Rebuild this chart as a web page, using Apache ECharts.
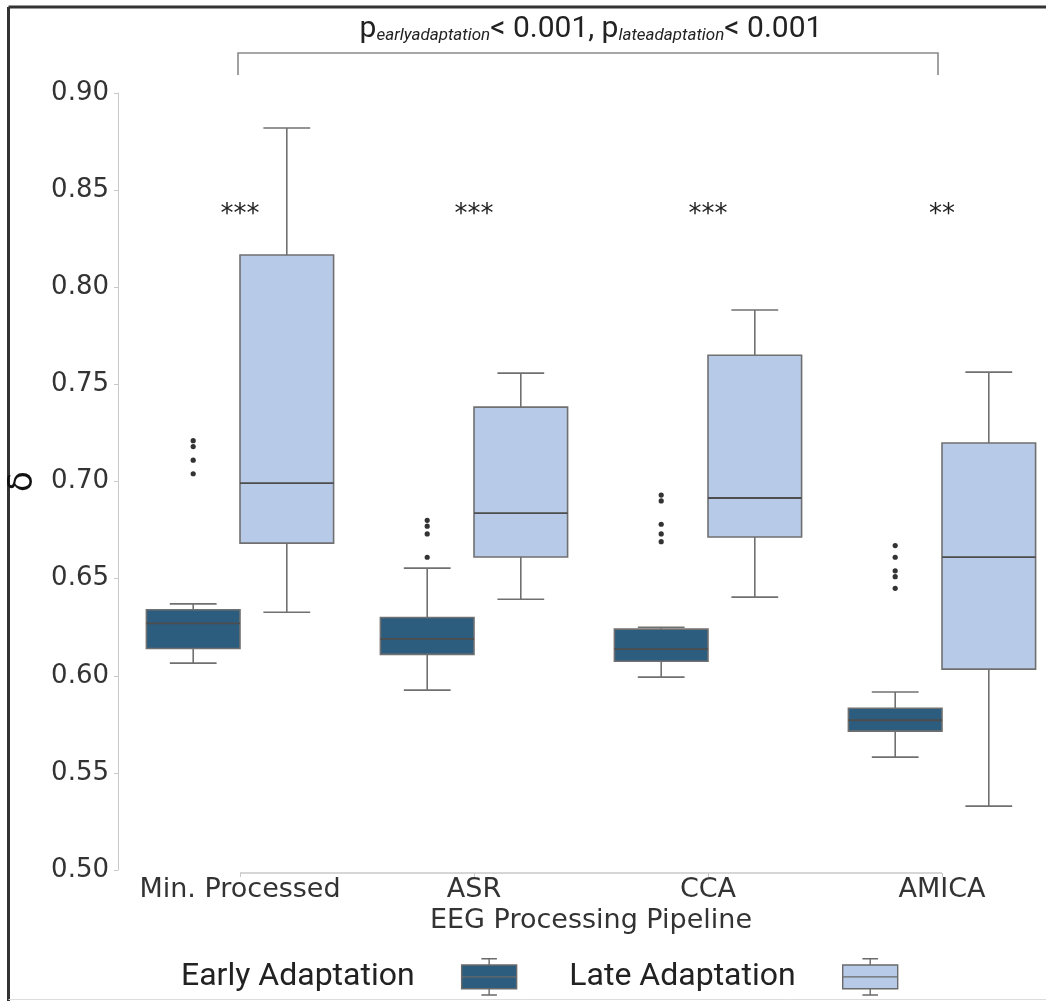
<!DOCTYPE html>
<html><head><meta charset="utf-8">
<script src="https://cdn.jsdelivr.net/npm/echarts@6/dist/echarts.min.js"></script>
<style>html,body{margin:0;padding:0;background:#fff}#c{width:1046px;height:1001px}</style>
</head><body><div id="c"></div>
<script>
// ---- data ----
const categories = ['Min. Processed', 'ASR', 'CCA', 'AMICA'];
const yTicks = [0.50, 0.55, 0.60, 0.65, 0.70, 0.75, 0.80, 0.85, 0.90];
// each: [lower whisker, Q1, median, Q3, upper whisker]
const earlyBoxes = [
  [0.6065, 0.6140, 0.6270, 0.6340, 0.6370],
  [0.5926, 0.6110, 0.6190, 0.6300, 0.6554],
  [0.5993, 0.6075, 0.6137, 0.6240, 0.6250],
  [0.5581, 0.5715, 0.5771, 0.5833, 0.5916]
];
const lateBoxes = [
  [0.6327, 0.6683, 0.6992, 0.8166, 0.8820],
  [0.6394, 0.6611, 0.6837, 0.7383, 0.7558],
  [0.6405, 0.6714, 0.6915, 0.7650, 0.7883],
  [0.5329, 0.6034, 0.6611, 0.7198, 0.7563]
];
const earlyOutliers = [
  [0.721, 0.718, 0.711, 0.704],
  [0.680, 0.677, 0.673, 0.661],
  [0.693, 0.690, 0.678, 0.673, 0.669],
  [0.667, 0.661, 0.654, 0.651, 0.645]
];
const significance = ['***', '***', '***', '**'];
const seriesNames = ['Early Adaptation', 'Late Adaptation'];

// ---- style ----
const EARLY = '#2c5d7e', LATE = '#b7cae8';
const EDGE = '#707070', MED = '#4d4d4d';
const AXISC = '#c9c9c9';
const sigLevel = 0.84;

function boxData(boxes) { return boxes.map((b, i) => [i].concat(b)); }

function boxRenderer(offFrac, fill) {
  return function (params, api) {
    const c = api.value(0);
    const band = api.size([1, 0])[0];
    const w = band * 0.4;
    const xc = api.coord([c, 0.7])[0] + band * offFrac;
    const Y = k => api.coord([c, api.value(k)])[1];
    const lo = Y(1), q1 = Y(2), md = Y(3), q3 = Y(4), hi = Y(5);
    const cap = w * 0.5;
    const ls = { stroke: EDGE, lineWidth: 1.6 };
    return { type: 'group', children: [
      { type: 'line', shape: { x1: xc, y1: hi, x2: xc, y2: q3 }, style: ls },
      { type: 'line', shape: { x1: xc, y1: q1, x2: xc, y2: lo }, style: ls },
      { type: 'line', shape: { x1: xc - cap / 2, y1: hi, x2: xc + cap / 2, y2: hi }, style: ls },
      { type: 'line', shape: { x1: xc - cap / 2, y1: lo, x2: xc + cap / 2, y2: lo }, style: ls },
      { type: 'rect', shape: { x: xc - w / 2, y: q3, width: w, height: q1 - q3 }, style: { fill: fill, stroke: EDGE, lineWidth: 1.6 } },
      { type: 'line', shape: { x1: xc - w / 2, y1: md, x2: xc + w / 2, y2: md }, style: { stroke: MED, lineWidth: 1.8 } }
    ]};
  };
}

const outlierData = [];
earlyOutliers.forEach((arr, i) => arr.forEach(v => outlierData.push([i, v])));

const legendIcon = 'path://M20 1L35 1M27.5 1L27.5 7M1 7L54 7L54 30L1 30ZM1 18.5L54 18.5M27.5 30L27.5 36M20 36L35 36';

const chart = echarts.init(document.getElementById('c'), null, { renderer: 'canvas' });
const option = {
  animation: false,
  backgroundColor: '#fff',
  grid: { left: 123, top: 93, width: 936, height: 777, outerBoundsMode: 'none' },
  legend: {
    data: seriesNames,
    left: 176, top: 953,
    align: 'right',
    icon: legendIcon,
    itemWidth: 55, itemHeight: 37, itemGap: 52,
    itemStyle: { borderColor: '#6a6a6a', borderWidth: 1.4 },
    textStyle: { fontFamily: 'Roboto', fontSize: 32, color: '#222', padding: [0, 42, 0, 0] },
    selectedMode: false
  },
  xAxis: {
    type: 'category', data: categories, offset: 3,
    axisLine: { show: false },
    axisTick: { show: true, alignWithLabel: true, length: 4, lineStyle: { color: AXISC } },
    axisLabel: { interval: 0, fontFamily: 'DejaVu Sans', fontSize: 27, color: '#333', margin: 3 },
    name: 'EEG Processing Pipeline', nameLocation: 'middle', nameGap: 32,
    nameTextStyle: { fontFamily: 'DejaVu Sans', fontSize: 27, color: '#333' },
    splitLine: { show: false }
  },
  yAxis: {
    type: 'value', min: yTicks[0], max: yTicks[yTicks.length - 1], interval: 0.05, offset: 5,
    axisLine: { show: true, lineStyle: { color: AXISC, width: 1 } },
    axisTick: { show: true, length: 4, lineStyle: { color: AXISC } },
    axisLabel: { fontFamily: 'DejaVu Sans', fontSize: 26, color: '#333', margin: 9,
      formatter: v => v.toFixed(2) },
    splitLine: { show: false },
    name: 'δ', nameLocation: 'middle', nameGap: 66,
    nameTextStyle: { fontFamily: 'DejaVu Sans', fontSize: 34, color: '#111' }
  },
  series: [
    { name: seriesNames[0], type: 'custom', clip: false, itemStyle: { color: EARLY },
      encode: { x: 0, y: [1, 2, 3, 4, 5] },
      data: boxData(earlyBoxes), renderItem: boxRenderer(-0.2, EARLY) },
    { name: seriesNames[1], type: 'custom', clip: false, itemStyle: { color: LATE },
      encode: { x: 0, y: [1, 2, 3, 4, 5] },
      data: boxData(lateBoxes), renderItem: boxRenderer(0.2, LATE) },
    { name: 'outliers', type: 'custom', clip: false,
      encode: { x: 0, y: 1 }, data: outlierData,
      renderItem: function (params, api) {
        const band = api.size([1, 0])[0];
        const p = api.coord([api.value(0), api.value(1)]);
        return { type: 'circle', shape: { cx: p[0] - band * 0.2, cy: p[1], r: 2.6 }, style: { fill: '#333' } };
      } },
    { name: 'significance', type: 'custom', clip: false,
      data: significance.map((s, i) => [i, sigLevel]),
      renderItem: function (params, api) {
        const p = api.coord([api.value(0), api.value(1)]);
        return { type: 'text', style: { text: significance[params.dataIndex], x: p[0], y: p[1] + 6,
          align: 'center', verticalAlign: 'middle', font: '26px "DejaVu Sans"', fill: '#222' } };
      } },
    { name: 'decor', type: 'custom', clip: false,
      data: [[0, yTicks[0]]],
      renderItem: function (params, api) {
        const n = categories.length - 1;
        const a = api.coord([0, yTicks[0]]), b = api.coord([n, yTicks[0]]);
        const top = api.coord([0, yTicks[yTicks.length - 1]])[1];
        const yb = top - 40, yl = top - 18;
        const mid = (a[0] + b[0]) / 2;
        return { type: 'group', children: [
          { type: 'line', shape: { x1: a[0], y1: a[1] + 3, x2: b[0], y2: b[1] + 3 }, style: { stroke: AXISC, lineWidth: 1.5 } },
          { type: 'polyline', shape: { points: [[a[0] - 2, yl], [a[0] - 2, yb], [b[0] - 4, yb], [b[0] - 4, yl]] },
            style: { stroke: '#8a8a8a', lineWidth: 1.6, fill: null } },
          { type: 'text', style: {
              text: '{p|p}{s|earlyadaptation}{n|< 0.001, }{p|p}{s|lateadaptation}{n|< 0.001}',
              x: mid, y: top - 69, align: 'center', verticalAlign: 'middle',
              rich: {
                p: { fontFamily: 'Roboto', fontSize: 30, lineHeight: 40, verticalAlign: 'bottom', fill: '#222' },
                n: { fontFamily: 'Roboto', fontSize: 30, lineHeight: 40, verticalAlign: 'bottom', fill: '#222' },
                s: { fontFamily: 'Roboto', fontSize: 17, fontStyle: 'italic', lineHeight: 16, verticalAlign: 'bottom', fill: '#222' }
              } } }
        ]};
      } }
  ],
  graphic: [
    { type: 'line', shape: { x1: 8.5, y1: 7, x2: 1046, y2: 7 }, style: { stroke: '#333', lineWidth: 3 } },
    { type: 'line', shape: { x1: 8.5, y1: 7, x2: 8.5, y2: 1001 }, style: { stroke: '#333', lineWidth: 3 } },
    { type: 'line', shape: { x1: 8.5, y1: 999.5, x2: 1046, y2: 999.5 }, style: { stroke: '#ddd', lineWidth: 1 } }
  ]
};
chart.setOption(option);
</script>
</body></html>
